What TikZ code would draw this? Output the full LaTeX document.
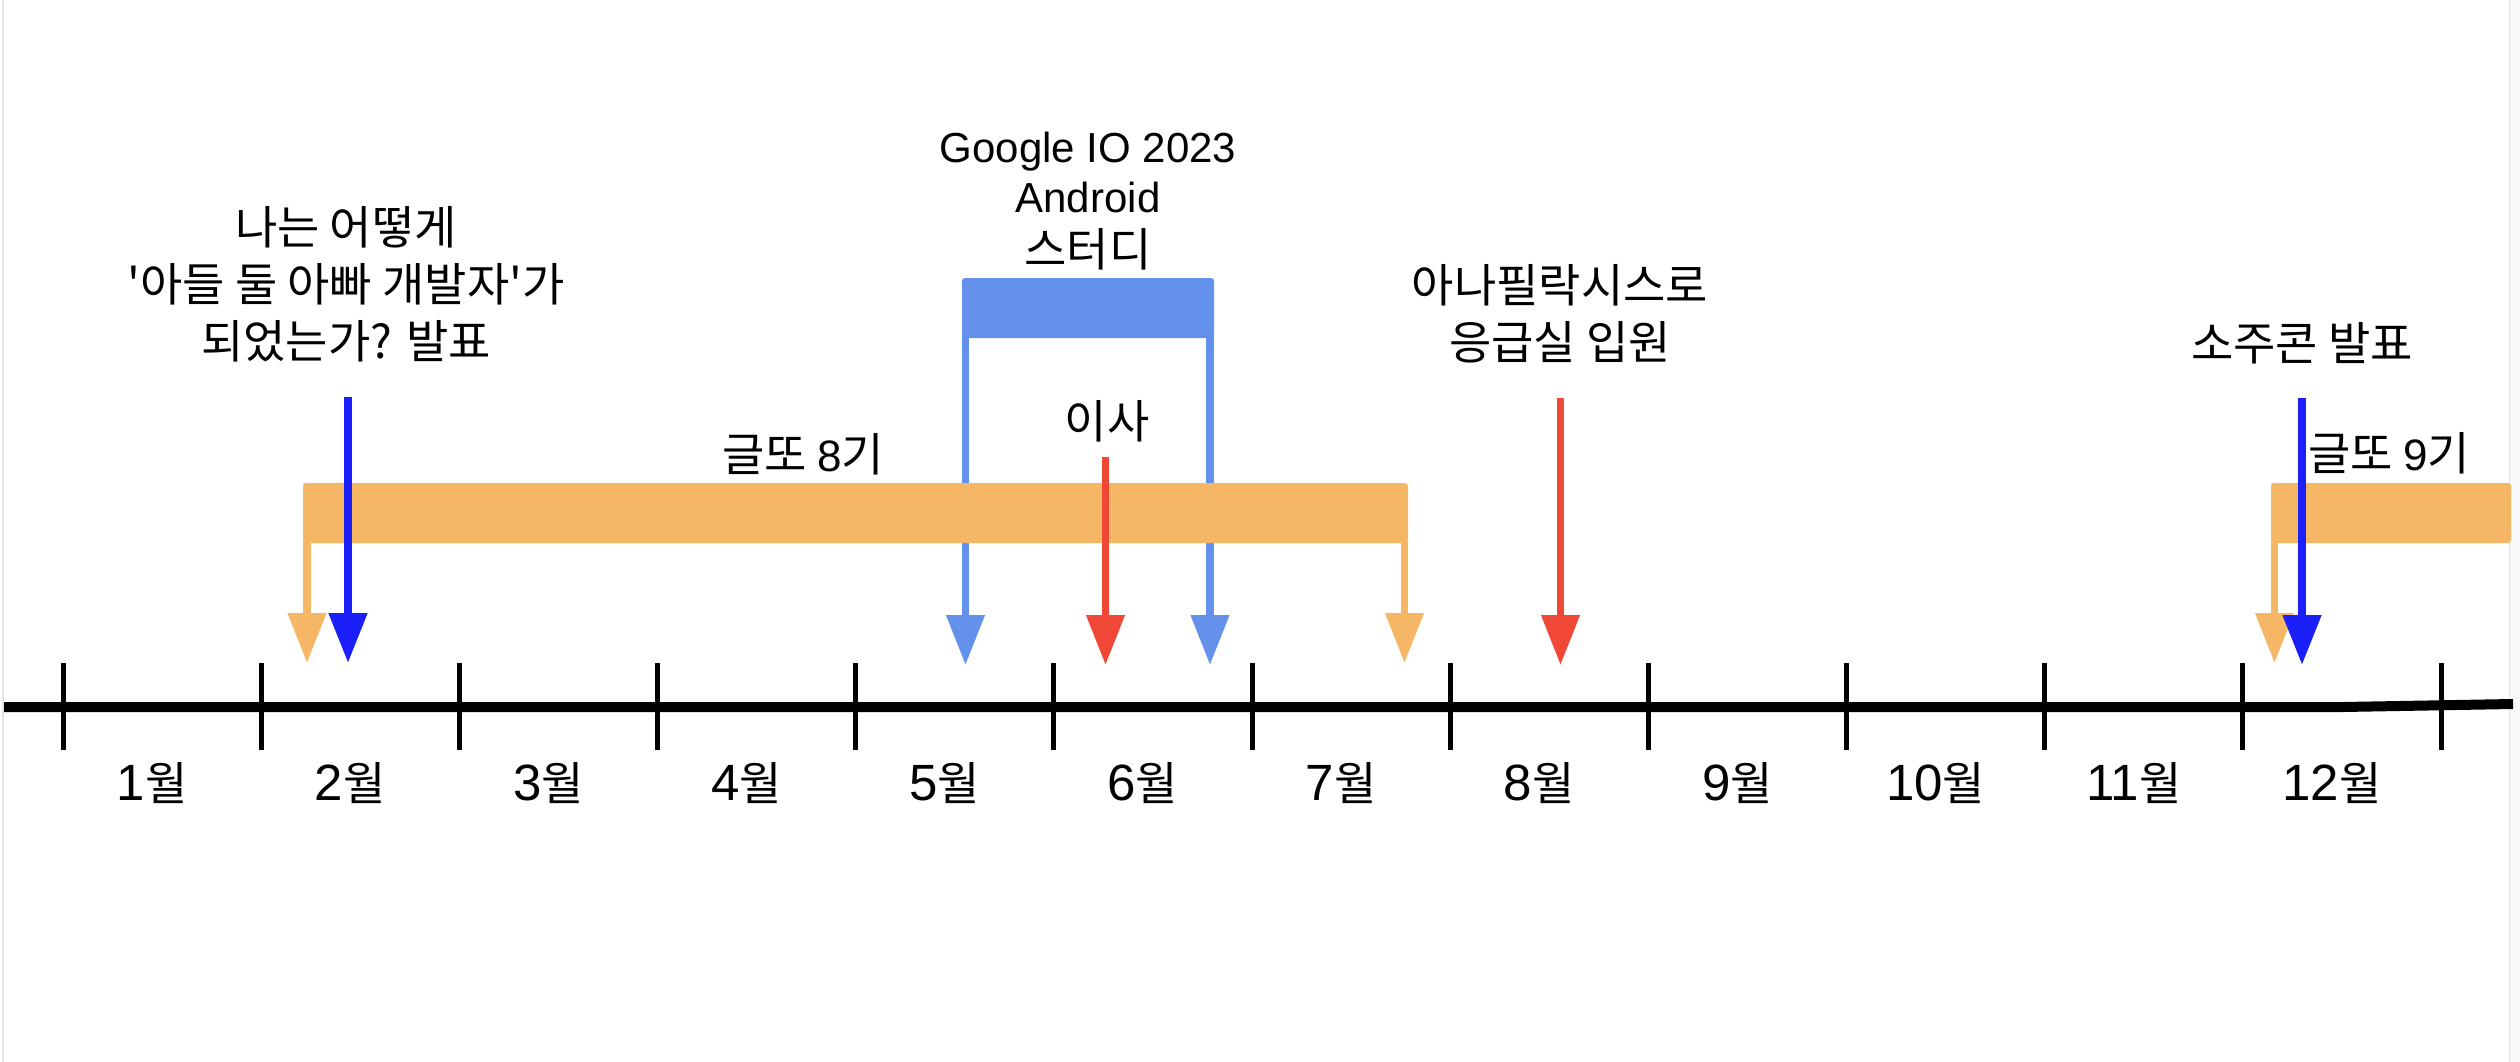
\documentclass[tikz,border=0pt]{standalone}
\usepackage{fontspec}
\setmainfont{Liberation Sans}
\newfontfamily\krfont{Noto Sans CJK KR}
\newfontfamily\latfont{Liberation Sans}
\usetikzlibrary{arrows.meta}
\definecolor{gorange}{HTML}{F5B766}
\definecolor{gblue}{HTML}{6391EC}
\definecolor{dblue}{HTML}{1B1FFA}
\definecolor{gred}{HTML}{F04836}
\definecolor{edgegray}{HTML}{E2E2E2}
\definecolor{edgefill}{HTML}{F8F9FB}
\begin{document}
\begin{tikzpicture}[x=1pt,y=-1pt,
  krlbl/.style={font=\krfont\fontsize{46}{54}\selectfont, inner sep=0pt, anchor=base},
  latlbl/.style={font=\fontsize{42}{50}\selectfont, inner sep=0pt, anchor=base},
  monlbl/.style={font=\fontsize{51}{60}\selectfont, inner sep=0pt, anchor=base},
  arr/.style={line width=7.5pt, -{Triangle[width=37pt,length=50pt]}},
  tickline/.style={line width=5pt},
  barfill/.style={rounded corners=3pt}]
\useasboundingbox (0,0) rectangle (2520,1062);
\fill[white] (0,0) rectangle (2520,1062);
\fill[edgegray] (1.5,0) rectangle (3.5,1062);
\fill[edgefill] (2509,0) rectangle (2520,1062);
\fill[edgegray] (2508.5,0) rectangle (2509.5,1062);

% timeline
\coordinate (tl0) at (4,707);
\coordinate (tlk) at (2343,707);
\coordinate (tl1) at (2513,704);
\draw[line width=10pt] (tl0) -- (tlk) -- (tl1);
\foreach \i in {0,...,12}{
  \coordinate (tk\i a) at ({63+198.17*\i},663);
  \coordinate (tk\i b) at ({63+198.17*\i},750);
  \draw[tickline] (tk\i a) -- (tk\i b);
}
\foreach \i in {0,...,11}{
  \pgfmathtruncatemacro{\m}{\i+1}
  \node[monlbl] (mon\m) at ({152+198.17*\i},800) {\m{\krfont\fontsize{46}{54}\selectfont 월}};
}

% Google IO bracket (behind orange bar)
\coordinate (ioLs) at (965.5,336);
\coordinate (ioLe) at (965.5,665);
\coordinate (ioRs) at (1210,336);
\coordinate (ioRe) at (1210,665);
\draw[arr, gblue] (ioLs) -- (ioLe);
\draw[arr, gblue] (ioRs) -- (ioRe);
\fill[gblue, barfill] (962,278) rectangle (1214,338);

% Gulddo 8
\coordinate (g8Ls) at (307,541);
\coordinate (g8Le) at (307,663);
\coordinate (g8Rs) at (1404.5,541);
\coordinate (g8Re) at (1404.5,663);
\draw[arr, gorange] (g8Ls) -- (g8Le);
\draw[arr, gorange] (g8Rs) -- (g8Re);
\fill[gorange, barfill] (303,483) rectangle (1408,543);

% Gulddo 9
\coordinate (g9Ls) at (2274.5,541);
\coordinate (g9Le) at (2274.5,663);
\draw[arr, gorange] (g9Ls) -- (g9Le);
\fill[gorange, barfill] (2271,483) rectangle (2511,543);

% event arrows
\coordinate (talkS) at (348,397);
\coordinate (talkE) at (348,663);
\draw[arr, dblue, line width=8pt] (talkS) -- (talkE);
\coordinate (sojuS) at (2302,398);
\coordinate (sojuE) at (2302,665);
\draw[arr, dblue, line width=8pt] (sojuS) -- (sojuE);
\coordinate (moveS) at (1105.5,457);
\coordinate (moveE) at (1105.5,665);
\draw[arr, gred] (moveS) -- (moveE);
\coordinate (anaS) at (1560.5,398);
\coordinate (anaE) at (1560.5,665);
\draw[arr, gred] (anaS) -- (anaE);

% labels
\node[krlbl] (talkA) at (346,244) {나는 어떻게};
\node[krlbl] (talkB) at (346,301) {'아들 둘 아빠 개발자'가};
\node[krlbl] (talkC) at (346,358) {되었는가? 발표};
\node[latlbl] (ioA) at (1088,163) {Google IO 2023};
\node[latlbl] (ioB) at (1088,212) {Android};
\node[krlbl] (ioC) at (1088,266) {스터디};
\node[krlbl] (anaA) at (1560,302) {아나필락시스로};
\node[krlbl] (anaB) at (1560,359) {응급실 입원};
\node[krlbl] (soju) at (2302,360) {소주콘 발표};
\node[krlbl] (g8) at (803,471) {글또 {\latfont\fontsize{44}{54}\selectfont 8}기};
\node[krlbl] (g9) at (2389,470) {글또 {\latfont\fontsize{44}{54}\selectfont 9}기};
\node[krlbl] (move) at (1107,438) {이사};
\end{tikzpicture}
\end{document}
